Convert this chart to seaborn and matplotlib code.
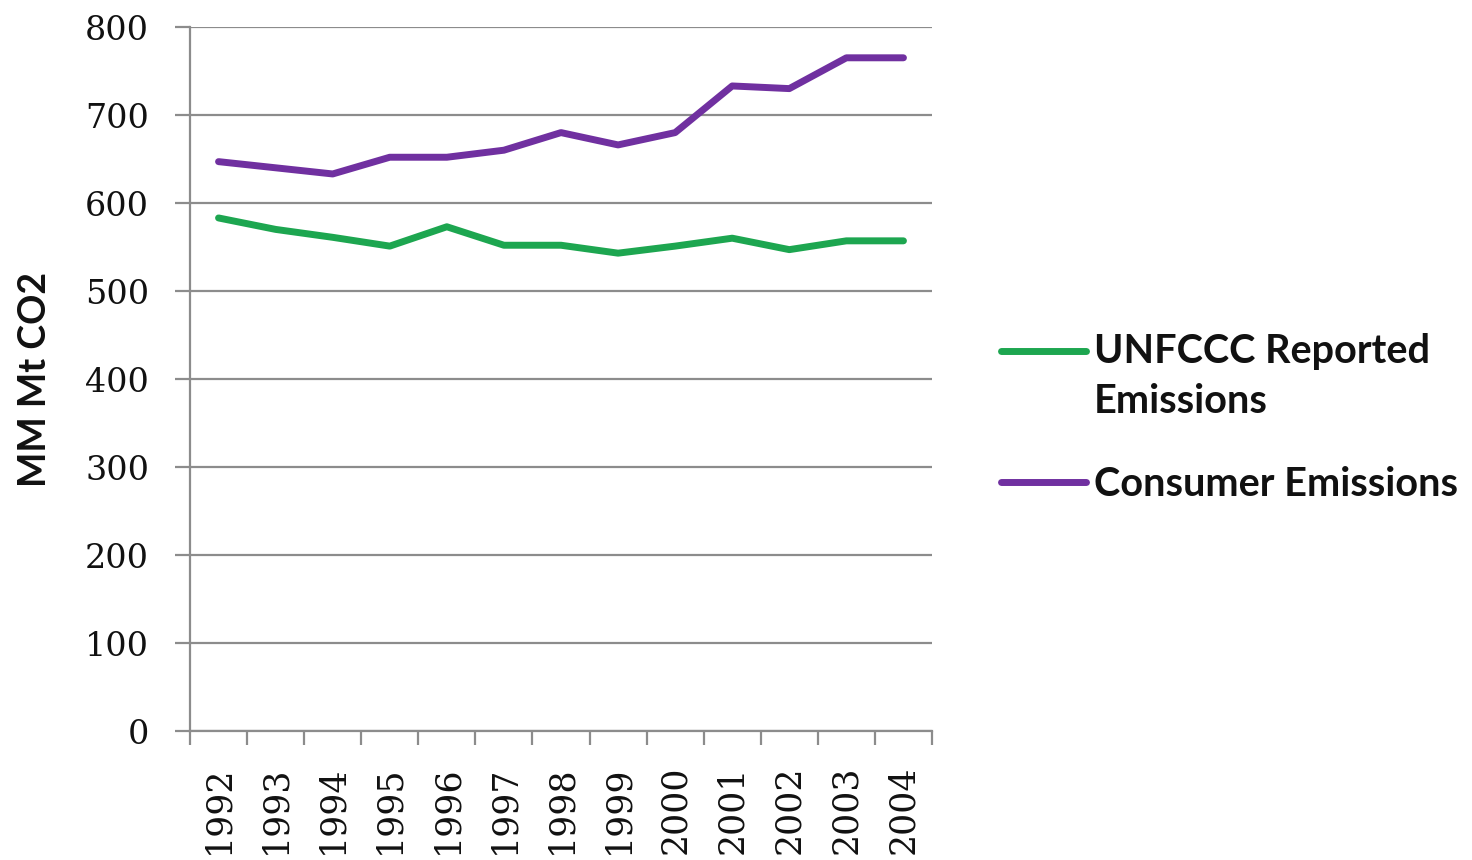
import matplotlib
matplotlib.use("Agg")
import matplotlib.pyplot as plt
import seaborn as sns
import pandas as pd
import numpy as np
from matplotlib.ticker import FixedLocator

years = ["1992", "1993", "1994", "1995", "1996", "1997", "1998",
         "1999", "2000", "2001", "2002", "2003", "2004"]
unfccc = [583, 570, 561, 551, 573, 552, 552, 543, 551, 560, 547, 557, 557]
consumer = [647, 640, 633, 652, 652, 660, 680, 666, 680, 733, 730, 765, 765]
series_names = ["UNFCCC Reported\nEmissions", "Consumer Emissions"]
colors = ["#1DA650", "#7030A0"]
y_ticks = [0, 100, 200, 300, 400, 500, 600, 700, 800]

df = pd.DataFrame({
    "year": years * 2,
    "value": unfccc + consumer,
    "series": [series_names[0]] * len(years) + [series_names[1]] * len(years),
})

sns.set_style("white")
fig = plt.figure(figsize=(14.72, 8.6), dpi=100)
ax = fig.add_axes([190 / 1472, 1 - 731 / 860, 742 / 1472, 704 / 860])

sns.lineplot(data=df, x="year", y="value", hue="series",
             palette=dict(zip(series_names, colors)), linewidth=5,
             ax=ax, sort=False)

ax.set_xlim(-0.5, len(years) - 0.5)
ax.set_ylim(0, 800)
ax.set_yticks(y_ticks)
ax.yaxis.grid(True, color="#8c8c8c", linewidth=1.6)
ax.set_axisbelow(True)
for s in ["top", "right"]:
    ax.spines[s].set_visible(False)
for s in ["left", "bottom"]:
    ax.spines[s].set_color("#8c8c8c")
    ax.spines[s].set_linewidth(1.6)

ax.set_xticks(range(len(years)))
ax.set_xticklabels(years, rotation=90, fontfamily="DejaVu Serif",
                   fontsize=25, color="#111111")
ax.tick_params(axis="x", which="major", bottom=True, length=0, pad=25)
ax.xaxis.set_minor_locator(FixedLocator([i - 0.5 for i in range(len(years) + 1)]))
ax.tick_params(axis="x", which="minor", bottom=True, length=10, width=1.6,
               color="#8c8c8c")
ax.tick_params(axis="y", left=True, length=10.5, width=1.6, color="#8c8c8c",
               pad=19)
for lab in ax.get_yticklabels():
    lab.set_fontfamily("DejaVu Serif")
    lab.set_fontsize(24)
    lab.set_color("#111111")

ax.set_xlabel("")
ax.set_ylabel("MM Mt CO2", fontfamily="Lato", fontweight="bold", fontsize=27,
              labelpad=24, color="#111111")

leg = ax.legend(loc="center left", bbox_to_anchor=(1.0445, 0.445), frameon=False,
                prop={"family": "Lato", "weight": "bold", "size": 28.5},
                handlelength=2.15, handletextpad=0.2, labelspacing=1.15)
for t in leg.get_texts():
    t.set_color("#111111")
    t.set_linespacing(1.45)
lines = leg.get_lines()
for line in lines:
    line.set_linewidth(5)
# align first handle with the first text line
yd = np.asarray(lines[0].get_ydata(), dtype=float)
lines[0].set_ydata(yd + 19)

fig.savefig("out.png", dpi=100)
